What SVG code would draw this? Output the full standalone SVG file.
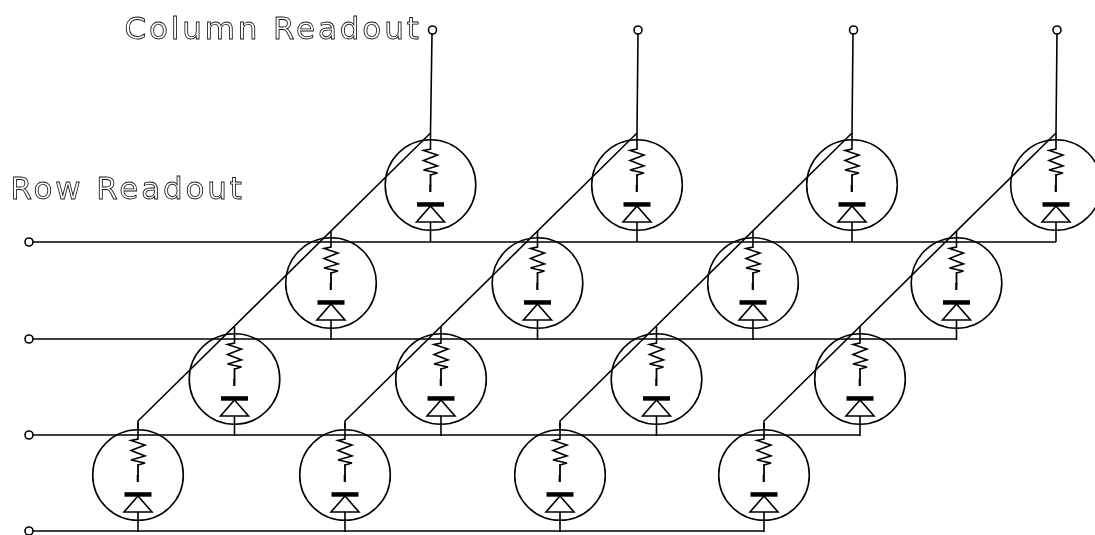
<svg xmlns="http://www.w3.org/2000/svg" width="1095" height="535" viewBox="0 0 1095 535">
<style>
.w{fill:none;stroke:#000;stroke-width:1.6}
.t{fill:#fff;stroke:#000;stroke-width:1.6}
.l{font-family:"DejaVu Sans",sans-serif;font-size:31px;letter-spacing:2.85px;fill:#fff;stroke:#111;stroke-width:.85}
</style>
<defs>
<filter id="gray" x="-5%" y="-20%" width="110%" height="140%" color-interpolation-filters="sRGB"><feOffset dx="0" dy="0"/></filter>
<g id="cell">
<circle class="w" cx="0" cy="0" r="45.3"/>
<path class="w" d="M0 -52V-36L-7 -34.500L7 -30L-7 -24.500L7 -19L-7 -15L7 -12L0 -10"/>
<rect x="-.9" y="-11" width="1.800" height="12" fill="#000"/>
<rect x="-1.300" y="0" width="2.200" height="7" fill="#000"/>
<rect x="-13.500" y="17.200" width="27" height="4.500" fill="#000"/>
<path class="w" d="M0 21L14 37H-14ZM0 37V57"/>
</g>
</defs>
<g id="connectors">
<path class="w" d="M33 242H1056M33 339H956M33 435H860M33 531H764"/>
<path class="w" d="M432 34L430.500 133L138 421V428M638 34L637 133L345 421V428M853 34L852 133L560 421V428M1057 34L1056 133L764 421V428"/>
<g class="t"><circle cx="432.500" cy="30" r="4"/><circle cx="638" cy="30" r="4"/><circle cx="853.500" cy="30" r="4"/><circle cx="1057" cy="30" r="4"/><circle cx="29" cy="242" r="4"/><circle cx="29" cy="339" r="4"/><circle cx="29" cy="435" r="4"/><circle cx="29" cy="531" r="4"/></g>
</g>
<g id="n1-1"><use href="#cell" x="430.500" y="185"/></g>
<g id="n1-2"><use href="#cell" x="637" y="185"/></g>
<g id="n1-3"><use href="#cell" x="852" y="185"/></g>
<g id="n1-4"><use href="#cell" x="1056" y="185"/></g>
<g id="n2-1"><use href="#cell" x="331" y="283"/></g>
<g id="n2-2"><use href="#cell" x="537.500" y="283"/></g>
<g id="n2-3"><use href="#cell" x="753" y="283"/></g>
<g id="n2-4"><use href="#cell" x="956.500" y="283"/></g>
<g id="n3-1"><use href="#cell" x="234.500" y="379"/></g>
<g id="n3-2"><use href="#cell" x="441" y="379"/></g>
<g id="n3-3"><use href="#cell" x="656.500" y="379"/></g>
<g id="n3-4"><use href="#cell" x="860" y="379"/></g>
<g id="n4-1"><use href="#cell" x="138" y="475"/></g>
<g id="n4-2"><use href="#cell" x="345" y="475"/></g>
<g id="n4-3"><use href="#cell" x="560" y="475"/></g>
<g id="n4-4"><use href="#cell" x="764" y="475"/></g>
<text class="l" filter="url(#gray)" x="124.500" y="38.500">Column Readout</text>
<text class="l" filter="url(#gray)" x="10.500" y="199">Row Readout</text>
</svg>
